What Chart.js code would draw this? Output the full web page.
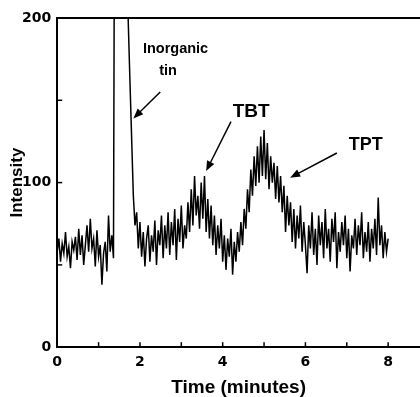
<!DOCTYPE html>
<html>
<head>
<meta charset="utf-8">
<script src="https://cdn.jsdelivr.net/npm/chart.js@4/dist/chart.umd.min.js"></script>
<style>
  html, body { margin: 0; padding: 0; background: #fff; }
  #wrap { width: 420px; height: 397px; }
</style>
</head>
<body>
<div id="wrap"><canvas id="chart"></canvas></div>
<script>
// detector signal, one reading every 0.04 min starting at 0
const sampleStep = 0.04;
const intensity = [
  58, 66, 52, 63, 57, 70, 55, 61, 48, 64,
  59, 67, 53, 72, 56, 68, 50, 62, 74, 58,
  78, 60, 66, 49, 71, 55, 62, 38, 57, 64,
  46, 80, 58, 68, 54,
  420, 420, 420, 420, 420, 420, 420,          // inorganic tin, off scale
  232, 195, 160, 126, 92, 74, 82, 60,
  76, 55, 70, 49, 66, 74, 52, 68, 58, 77,
  50, 71, 62, 80, 54, 74, 60, 82, 56, 76,
  62, 84, 53, 78, 64, 86, 60, 74, 66, 88,
  70, 96, 74, 104, 80, 92, 72, 100, 78, 104,   // TBT
  70, 90, 66, 86, 62, 80, 56, 74, 60, 78,
  52, 68, 47, 66, 55, 72, 44, 64, 52, 70,
  58, 76, 62, 84, 72, 96, 82, 108, 92, 116,
  98, 122, 100, 128, 104, 132, 102, 124, 96, 116, // TPT
  100, 112, 90, 110, 88, 104, 82, 98, 70, 92,
  74, 88, 64, 84, 60, 80, 66, 86, 58, 76,
  62, 45, 74, 60, 82, 56, 72, 50, 80, 62,
  76, 54, 84, 60, 72, 52, 78, 64, 82, 48,
  70, 58, 76, 62, 80, 54, 72, 46, 68, 60,
  78, 56, 74, 62, 82, 54, 70, 58, 76, 52,
  72, 60, 78, 56, 91, 62, 74, 54, 70, 58,
  66
];
const times = intensity.map((_, i) => +(i * sampleStep).toFixed(2));

const xTicks = [0, 1, 2, 3, 4, 5, 6, 7, 8];
const xLabels = [0, 2, 4, 6, 8];
const yTicks = [0, 50, 100, 150, 200];
const yLabels = [0, 100, 200];
const yTitle = "Intensity";

// peak labels: text, anchor in data units, arrow tail and head in data units
const peakNotes = [
  { lines: ["Inorganic", "tin"], at: [[2.86, 181], [2.68, 168]], size: 14.5, tail: [2.49, 155], head: [1.84, 139] },
  { lines: ["TBT"], at: [[4.69, 143]], size: 19, tail: [4.2, 137], head: [3.6, 107] },
  { lines: ["TPT"], at: [[7.46, 123]], size: 18, tail: [6.76, 118], head: [5.63, 103] }
];

const FONT = "'Liberation Sans', Arial, sans-serif";
const TICK_FONT = "'DejaVu Sans', sans-serif";

const frameAndNotes = {
  id: "frameAndNotes",
  afterDraw(chart) {
    const { ctx, chartArea, scales } = chart;
    const x = scales.x, y = scales.y;
    ctx.save();
    ctx.strokeStyle = "#000";
    ctx.fillStyle = "#000";

    // top frame line
    ctx.lineWidth = 2;
    ctx.beginPath();
    ctx.moveTo(chartArea.left, chartArea.top);
    ctx.lineTo(chartArea.right, chartArea.top);
    ctx.stroke();

    // inward tick marks
    ctx.lineWidth = 1.5;
    xTicks.forEach(v => {
      const px = x.getPixelForValue(v);
      ctx.beginPath();
      ctx.moveTo(px, chartArea.bottom);
      ctx.lineTo(px, chartArea.bottom - 5);
      ctx.stroke();
    });
    yTicks.forEach(v => {
      const py = y.getPixelForValue(v);
      ctx.beginPath();
      ctx.moveTo(chartArea.left, py);
      ctx.lineTo(chartArea.left + 5, py);
      ctx.stroke();
    });

    // y axis title, sits close to the tick labels like the original
    ctx.save();
    ctx.translate(17.5, (chartArea.top + chartArea.bottom) / 2);
    ctx.rotate(-Math.PI / 2);
    ctx.font = `bold 17px ${FONT}`;
    ctx.textAlign = "center";
    ctx.textBaseline = "middle";
    ctx.fillText(yTitle, 0, 0);
    ctx.restore();

    // peak labels and arrows
    ctx.textAlign = "center";
    ctx.textBaseline = "middle";
    peakNotes.forEach(n => {
      ctx.font = `bold ${n.size}px ${FONT}`;
      n.lines.forEach((t, i) => {
        ctx.fillText(t, x.getPixelForValue(n.at[i][0]), y.getPixelForValue(n.at[i][1]));
      });
      const x1 = x.getPixelForValue(n.tail[0]), y1 = y.getPixelForValue(n.tail[1]);
      const x2 = x.getPixelForValue(n.head[0]), y2 = y.getPixelForValue(n.head[1]);
      const a = Math.atan2(y2 - y1, x2 - x1);
      ctx.lineWidth = 1.5;
      ctx.beginPath();
      ctx.moveTo(x1, y1);
      ctx.lineTo(x2 - 6 * Math.cos(a), y2 - 6 * Math.sin(a));
      ctx.stroke();
      ctx.beginPath();
      ctx.moveTo(x2, y2);
      ctx.lineTo(x2 - 10 * Math.cos(a) + 4 * Math.sin(a), y2 - 10 * Math.sin(a) - 4 * Math.cos(a));
      ctx.lineTo(x2 - 10 * Math.cos(a) - 4 * Math.sin(a), y2 - 10 * Math.sin(a) + 4 * Math.cos(a));
      ctx.closePath();
      ctx.fill();
    });
    ctx.restore();
  }
};

new Chart(document.getElementById("chart"), {
  type: "line",
  data: {
    datasets: [{
      data: times.map((t, i) => ({ x: t, y: intensity[i] })),
      borderColor: "#000",
      borderWidth: 1.5,
      pointRadius: 0,
      tension: 0,
      fill: false
    }]
  },
  options: {
    responsive: true,
    maintainAspectRatio: false,
    animation: false,
    events: [],
    layout: { padding: { top: 18, right: 0, left: 16, bottom: 0 } },
    plugins: { legend: { display: false }, tooltip: { enabled: false } },
    scales: {
      x: {
        type: "linear",
        min: 0,
        max: 8.77,
        afterBuildTicks: s => { s.ticks = xTicks.map(v => ({ value: v })); },
        grid: { display: false, drawTicks: false },
        border: { display: true, color: "#000", width: 2 },
        ticks: {
          color: "#000",
          font: { family: TICK_FONT, size: 14, weight: "bold" },
          padding: 7,
          maxRotation: 0,
          autoSkip: false,
          callback: v => xLabels.includes(v) ? String(v) : ""
        },
        title: {
          display: true,
          text: "Time (minutes)",
          color: "#000",
          font: { family: FONT, size: 19, weight: "bold", lineHeight: 1.0 },
          padding: { top: 0, bottom: 0 }
        }
      },
      y: {
        min: 0,
        max: 200,
        afterBuildTicks: s => { s.ticks = yTicks.map(v => ({ value: v })); },
        grid: { display: false, drawTicks: false },
        border: { display: true, color: "#000", width: 2 },
        ticks: {
          color: "#000",
          font: { family: TICK_FONT, size: 14, weight: "bold" },
          padding: 6,
          autoSkip: false,
          callback: v => yLabels.includes(v) ? String(v) : ""
        },
        title: { display: false }
      }
    }
  },
  plugins: [frameAndNotes]
});
</script>
</body>
</html>
